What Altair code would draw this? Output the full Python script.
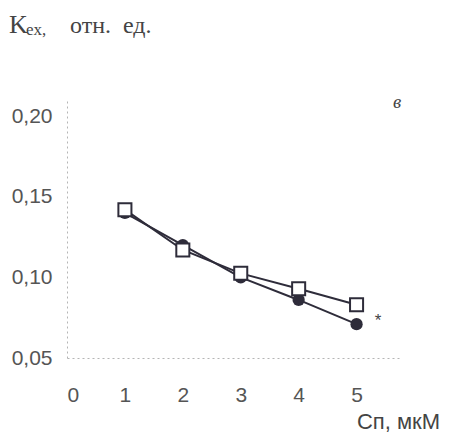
import altair as alt
import pandas as pd

conc = [1, 2, 3, 4, 5]
circles = [0.140, 0.120, 0.100, 0.086, 0.071]
squares = [0.142, 0.117, 0.1025, 0.093, 0.083]
x_ticks = [0, 1, 2, 3, 4, 5]
y_ticks = [0.05, 0.10, 0.15, 0.20]

df = pd.DataFrame({
    "c": conc * 2,
    "k": circles + squares,
    "s": ["circle"] * 5 + ["square"] * 5,
})

W, H = 333, 258
dark = "#2e2c3a"

xs = alt.Scale(domain=[0, 5.75], nice=False, zero=False)
ys = alt.Scale(domain=[0.05, 0.21], nice=False, zero=False)

xax = alt.Axis(values=x_ticks, labelExpr="datum.value", title=None, grid=False,
               domainColor="#b5b5b5", domainDash=[2, 3], domainWidth=1,
               ticks=False, labelPadding=26, labelFontSize=21,
               labelColor="#555555", labelFont="Liberation Sans")
yax = alt.Axis(values=y_ticks, labelExpr="replace(format(datum.value, '.2f'), '.', ',')",
               title=None, grid=False, domainColor="#b5b5b5", domainDash=[2, 3],
               domainWidth=1, ticks=False, labelPadding=15, labelFontSize=21,
               labelColor="#555555", labelFont="Liberation Sans")

base = alt.Chart(df).encode(
    x=alt.X("c:Q", scale=xs, axis=xax),
    y=alt.Y("k:Q", scale=ys, axis=yax),
)

lines = base.mark_line(color=dark, strokeWidth=2).encode(detail="s:N")
circ = base.transform_filter("datum.s == 'circle'").mark_point(
    shape="circle", filled=True, color=dark, size=150, opacity=1)
sq = base.transform_filter("datum.s == 'square'").mark_point(
    shape="square", filled=True, fill="white", stroke=dark, strokeWidth=2,
    size=170, opacity=1)

def label(text, x, y, size, font, **kw):
    return alt.Chart(pd.DataFrame({"t": [text]})).mark_text(
        fontSize=size, font=font, color="#444444", **kw
    ).encode(text="t:N", x=alt.value(x), y=alt.value(y))

t_k = label("K", -58, -67, 26, "Liberation Serif", align="left", baseline="alphabetic")
t_ex = label("ex,", -41, -65, 17, "Liberation Serif", align="left", baseline="alphabetic")
t_o = label("отн.", 3, -67, 24, "Liberation Serif", align="left", baseline="alphabetic")
t_e = label("ед.", 56, -67, 24, "Liberation Serif", align="left", baseline="alphabetic")
t_v = label("в", 330, 2, 19, "Liberation Serif", fontStyle="italic", align="center", baseline="middle")
t_star = label("*", 311, 221, 17, "Liberation Sans", align="center", baseline="middle")
t_xt = label("Сп, мкМ", 373, 322, 22, "Liberation Sans", align="right", baseline="middle")

chart = alt.layer(lines, circ, sq, t_k, t_ex, t_o, t_e, t_v, t_star, t_xt).properties(
    width=W, height=H,
    background="white",
    autosize=alt.AutoSizeParams(type="none"),
    padding={"left": 59, "top": 92, "right": 41, "bottom": 77},
).configure_view(stroke=None)

chart.save("out.html", embed_options={"renderer": "svg", "actions": False})
